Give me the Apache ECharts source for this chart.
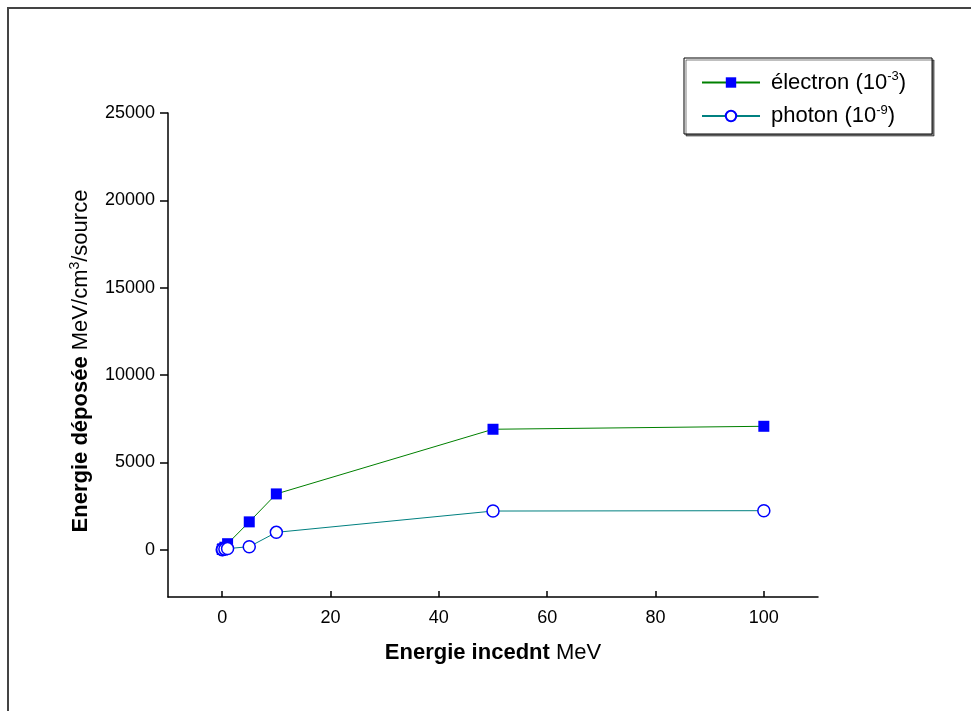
<!DOCTYPE html>
<html>
<head>
<meta charset="utf-8">
<script src="https://cdn.jsdelivr.net/npm/echarts@6/dist/echarts.min.js"></script>
<style>
  html, body { margin: 0; padding: 0; background: #fff; }
  #chart { width: 971px; height: 711px; }
</style>
</head>
<body>
<div id="chart"></div>
<script>
// incident energy (MeV)
var energies = [0.01, 0.1, 0.5, 1, 5, 10, 50, 100];
// deposited energy, electron (x1e-3) and photon (x1e-9)
var electronVals = [20, 60, 150, 350, 1600, 3200, 6900, 7070];
var photonVals = [5, 15, 40, 70, 180, 1000, 2220, 2240];
var xTicks = [0, 20, 40, 60, 80, 100];
var yTicks = [0, 5000, 10000, 15000, 20000, 25000];

var font = "Arial, 'Liberation Sans', sans-serif";

function pairs(xs, ys) {
    return xs.map(function (x, i) { return [x, ys[i]]; });
}

var chart = echarts.init(document.getElementById("chart"));
chart.setOption({
    animation: false,
    backgroundColor: "#fff",
    textStyle: { fontFamily: font, color: "#000" },
    graphic: [{
        type: "rect",
        shape: { x: 8, y: 8, width: 1100, height: 900 },
        style: { fill: "none", stroke: "#444", lineWidth: 2 },
        silent: true
    }],
    grid: { left: 168, right: 153, top: 113, bottom: 114 },
    legend: {
        orient: "vertical",
        left: 684,
        top: 58,
        itemWidth: 58,
        itemHeight: 13,
        itemGap: 10,
        padding: [12, 26, 7, 17],
        borderColor: "#000",
        borderWidth: 1,
        backgroundColor: "#fff",
        shadowColor: "rgba(0,0,0,0.5)",
        shadowOffsetX: 2,
        shadowOffsetY: 2,
        shadowBlur: 0,
        data: ["électron", "photon"],
        formatter: function (name) {
            return name === "électron" ? "électron (10{s|-3})" : "photon (10{s|-9})";
        },
        textStyle: {
            fontFamily: font, fontSize: 22, color: "#000", padding: [0, 0, 0, 6],
            rich: {
                s: { fontFamily: font, fontSize: 13, color: "#000", padding: [0, 0, 12, 0] }
            }
        }
    },
    xAxis: {
        type: "value",
        min: -10,
        max: 110,
        name: "{b|Energie incednt} MeV",
        nameLocation: "middle",
        nameGap: 45,
        nameTextStyle: {
            fontFamily: font, fontSize: 22, color: "#000",
            rich: { b: { fontFamily: font, fontSize: 22, fontWeight: "bold", color: "#000" } }
        },
        splitLine: { show: false },
        axisLine: { onZero: false, lineStyle: { color: "#000", width: 1.5 } },
        axisTick: { inside: true, length: 6, customValues: xTicks, lineStyle: { color: "#000", width: 1.5 } },
        axisLabel: { customValues: xTicks, fontFamily: font, fontSize: 18, color: "#000", margin: 12 }
    },
    yAxis: {
        type: "value",
        min: -2700,
        max: 25000,
        name: "{b|Energie déposée} MeV/cm{s|3}/source",
        nameLocation: "middle",
        nameGap: 74,
        nameRotate: 90,
        nameTextStyle: {
            fontFamily: font, fontSize: 22, color: "#000", padding: [0, 12, 0, 0],
            rich: {
                b: { fontFamily: font, fontSize: 22, fontWeight: "bold", color: "#000" },
                s: { fontFamily: font, fontSize: 14, color: "#000", padding: [0, 0, 12, 0] }
            }
        },
        splitLine: { show: false },
        axisLine: { onZero: false, lineStyle: { color: "#000", width: 1.5 } },
        axisTick: { length: 8, customValues: yTicks, lineStyle: { color: "#000", width: 1.5 } },
        axisLabel: {
            customValues: yTicks, fontFamily: font, fontSize: 18, color: "#000", margin: 13,
            formatter: function (v) { return String(v); }
        }
    },
    series: [
        {
            name: "électron",
            type: "line",
            data: pairs(energies, electronVals),
            symbol: "rect",
            symbolSize: 11,
            lineStyle: { color: "#008000", width: 1 },
            itemStyle: { color: "#0000ff", borderColor: "#0000ff", borderWidth: 0 },
            color: "#0000ff",
            z: 3
        },
        {
            name: "photon",
            type: "line",
            data: pairs(energies, photonVals),
            symbol: "circle",
            symbolSize: 12,
            showAllSymbol: true,
            lineStyle: { color: "#008080", width: 1 },
            itemStyle: { color: "#fff", borderColor: "#0000ff", borderWidth: 1.5 },
            z: 4
        }
    ]
});
</script>
</body>
</html>
